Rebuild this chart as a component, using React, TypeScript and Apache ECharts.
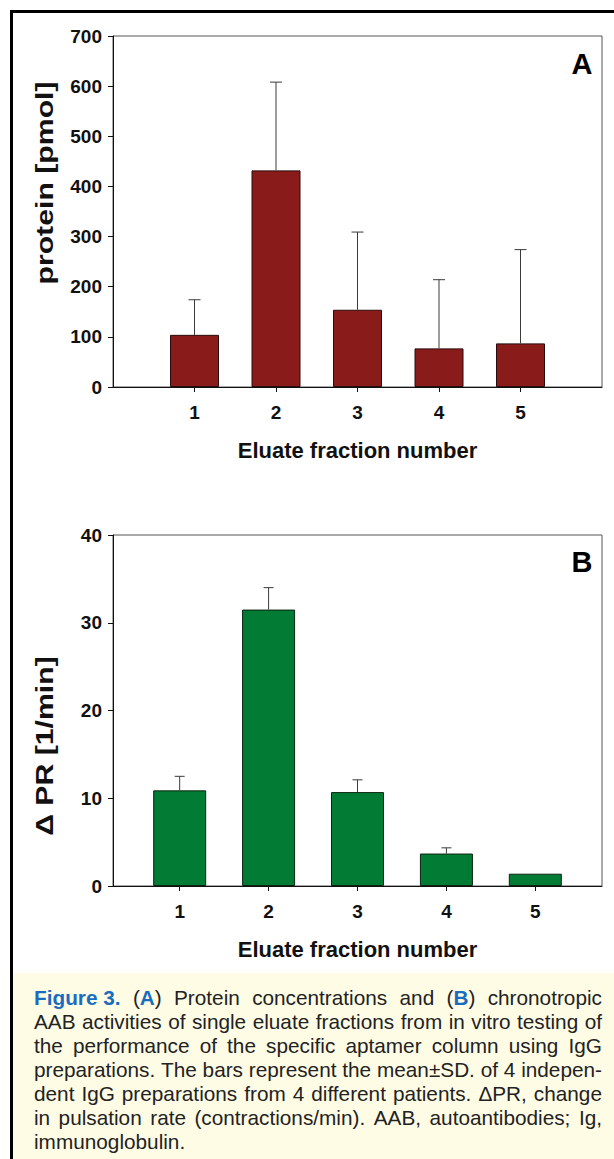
import React, { useEffect, useRef } from 'react';
import * as echarts from 'echarts';

// ---------- data ----------
const fractions = [1, 2, 3, 4, 5];
const proteinMean = [104, 432, 154, 77, 87];
const proteinSD = [70, 176, 155, 137, 187];
const prMean = [10.9, 31.5, 10.7, 3.7, 1.4];
const prSD = [1.6, 2.5, 1.4, 0.65, 0];

const proteinAxis = { min: 0, max: 700, interval: 100 };
const prAxis = { min: 0, max: 40, interval: 10 };

const xTitle = 'Eluate fraction number';
const yTitleA = 'protein [pmol]';
const yTitleB = '\u0394 PR [1/min]';
const panelA = 'A';
const panelB = 'B';

// [..] marks bold blue segments
const captionLines = [
  '[Figure\u00a03.] ([A]) Protein concentrations and ([B]) chronotropic',
  'AAB activities of single eluate fractions from in vitro testing of',
  'the performance of the specific aptamer column using IgG',
  'preparations. The bars represent the mean\u00b1SD. of 4 indepen-',
  'dent IgG preparations from 4 different patients. \u0394PR, change',
  'in pulsation rate (contractions/min). AAB, autoantibodies; Ig,',
  'immunoglobulin.',
];

const FONT = '"Liberation Sans", Arial, Helvetica, sans-serif';

function buildCaption(): any[] {
  const canvas = document.createElement('canvas');
  const ctx = canvas.getContext('2d') as CanvasRenderingContext2D;
  const size = 21;
  const meas = (t: string, b: boolean) => {
    ctx.font = `${b ? 'bold ' : ''}${size}px ${FONT}`;
    return ctx.measureText(t).width;
  };
  const left = 34;
  const right = 602;
  const W = right - left;
  const top = 997;
  const lh = 24;
  const parsed = captionLines.map((line) =>
    line.split(' ').map((tok) => {
      const segs: { t: string; b: boolean }[] = [];
      const re = /\[([^\]]*)\]/g;
      let last = 0;
      let m: RegExpExecArray | null;
      while ((m = re.exec(tok))) {
        if (m.index > last) segs.push({ t: tok.slice(last, m.index), b: false });
        segs.push({ t: m[1], b: true });
        last = m.index + m[0].length;
      }
      if (last < tok.length) segs.push({ t: tok.slice(last), b: false });
      const w = segs.reduce((s, g) => s + meas(g.t, g.b), 0);
      return { segs, w };
    })
  );
  const sp = meas(' ', false);
  let scale = 1;
  parsed.forEach((toks, i) => {
    if (i === parsed.length - 1) return;
    const nat = toks.reduce((s, t) => s + t.w, 0) + sp * (toks.length - 1);
    scale = Math.min(scale, W / nat);
  });
  const els: any[] = [];
  parsed.forEach((toks, i) => {
    const justify = i < parsed.length - 1;
    const sum = toks.reduce((s, t) => s + t.w * scale, 0);
    const gap = justify && toks.length > 1 ? (W - sum) / (toks.length - 1) : sp * scale;
    let x = left;
    const y = top + i * lh;
    toks.forEach((tok) => {
      let sx = x;
      tok.segs.forEach((g) => {
        els.push({
          type: 'text',
          x: sx,
          y,
          scaleX: scale,
          style: {
            text: g.t,
            fontSize: size,
            fontFamily: FONT,
            fontWeight: g.b ? 'bold' : 'normal',
            fill: g.b ? '#1a6cc0' : '#222222',
            textAlign: 'left',
            align: 'left',
            textVerticalAlign: 'middle',
            verticalAlign: 'middle',
          },
          z: 10,
        });
        sx += meas(g.t, g.b) * scale;
      });
      x += tok.w * scale + gap;
    });
  });
  return els;
}

function errorSeries(idx: number, means: number[], sds: number[], cap: number) {
  return {
    type: 'custom',
    xAxisIndex: idx,
    yAxisIndex: idx,
    z: 4,
    data: fractions.map((f, i) => [f, means[i], means[i] + sds[i]]),
    renderItem: (_p: any, api: any) => {
      const x = api.value(0);
      const lo = api.value(1);
      const hi = api.value(2);
      if (!(hi > lo)) return { type: 'group', children: [] };
      const p0 = api.coord([x, lo]);
      const p1 = api.coord([x, hi]);
      const st = { stroke: '#3a3a3a', lineWidth: 1 };
      return {
        type: 'group',
        children: [
          { type: 'line', shape: { x1: p0[0], y1: p0[1], x2: p1[0], y2: p1[1] }, style: st },
          { type: 'line', shape: { x1: p1[0] - cap, y1: p1[1], x2: p1[0] + cap, y2: p1[1] }, style: st },
        ],
      };
    },
  };
}

function xAxisCfg(idx: number, min: number, max: number) {
  return {
    type: 'value',
    gridIndex: idx,
    min,
    max,
    name: xTitle,
    nameLocation: 'middle',
    nameGap: 52,
    nameTextStyle: { fontSize: 22, fontWeight: 'bold', fontFamily: FONT, color: '#111' },
    axisLine: { show: true, lineStyle: { color: '#111', width: 1 } },
    axisTick: { show: true, length: 5, customValues: fractions, lineStyle: { color: '#111' } },
    axisLabel: {
      customValues: fractions,
      margin: 16,
      fontSize: 19,
      fontWeight: 'bold',
      fontFamily: FONT,
      color: '#111',
    },
    splitLine: { show: false },
  };
}

function yAxisCfg(idx: number, ax: { min: number; max: number; interval: number }) {
  return {
    type: 'value',
    gridIndex: idx,
    min: ax.min,
    max: ax.max,
    interval: ax.interval,
    axisLine: { show: true, lineStyle: { color: '#111', width: 1 } },
    axisTick: { show: true, length: 5, lineStyle: { color: '#111' } },
    axisLabel: { margin: 11, fontSize: 19, fontWeight: 'bold', fontFamily: FONT, color: '#111' },
    splitLine: { show: false },
  };
}

export default function App() {
  const ref = useRef<HTMLDivElement>(null);
  useEffect(() => {
    document.body.style.margin = '0';
    const chart = echarts.init(ref.current as HTMLDivElement, null, { renderer: 'svg' });
    const yTitleStyle = {
      fontSize: 24,
      fontWeight: 'bold',
      fontFamily: FONT,
      fill: '#111',
      textAlign: 'center',
      align: 'center',
      textVerticalAlign: 'middle',
      verticalAlign: 'middle',
    };
    const option: any = {
      animation: false,
      backgroundColor: '#ffffff',
      grid: [
        { left: 113, top: 36, width: 489, height: 351, show: true, borderColor: '#555', borderWidth: 1, backgroundColor: 'transparent' },
        { left: 113, top: 535, width: 489, height: 351, show: true, borderColor: '#555', borderWidth: 1, backgroundColor: 'transparent' },
      ],
      xAxis: [xAxisCfg(0, 0, 6), xAxisCfg(1, 0.25, 5.75)],
      yAxis: [yAxisCfg(0, proteinAxis), yAxisCfg(1, prAxis)],
      series: [
        {
          type: 'bar',
          xAxisIndex: 0,
          yAxisIndex: 0,
          barWidth: 49,
          data: fractions.map((f, i) => [f, proteinMean[i]]),
          itemStyle: { color: '#8a1b1b', borderColor: '#2a0b0b', borderWidth: 1 },
          z: 2,
        },
        errorSeries(0, proteinMean, proteinSD, 6),
        {
          type: 'bar',
          xAxisIndex: 1,
          yAxisIndex: 1,
          barWidth: 53,
          data: fractions.map((f, i) => [f, prMean[i]]),
          itemStyle: { color: '#027b35', borderColor: '#0b2410', borderWidth: 1 },
          z: 2,
        },
        errorSeries(1, prMean, prSD, 5),
      ],
      graphic: [
        { type: 'rect', shape: { x: 12, y: 973, width: 620, height: 200 }, style: { fill: '#fffce6' }, z: 1 },
        { type: 'rect', shape: { x: 11.5, y: 11.5, width: 700, height: 1300 }, style: { fill: 'none', stroke: '#000', lineWidth: 3 }, z: 20 },
        {
          type: 'text', x: 582, y: 64,
          style: { text: panelA, fontSize: 29, fontWeight: 'bold', fontFamily: FONT, fill: '#000', textAlign: 'center', align: 'center', textVerticalAlign: 'middle', verticalAlign: 'middle' },
          z: 10,
        },
        {
          type: 'text', x: 582, y: 562,
          style: { text: panelB, fontSize: 29, fontWeight: 'bold', fontFamily: FONT, fill: '#000', textAlign: 'center', align: 'center', textVerticalAlign: 'middle', verticalAlign: 'middle' },
          z: 10,
        },
        {
          type: 'text', x: 45, y: 183, rotation: Math.PI / 2, scaleX: 1.26,
          style: { text: yTitleA, ...yTitleStyle },
          z: 10,
        },
        {
          type: 'text', x: 45, y: 746, rotation: Math.PI / 2, scaleX: 1.26,
          style: { text: yTitleB, ...yTitleStyle },
          z: 10,
        },
        ...buildCaption(),
      ],
    };
    chart.setOption(option);
    return () => chart.dispose();
  }, []);
  return <div ref={ref} style={{ width: 614, height: 1159 }} />;
}
